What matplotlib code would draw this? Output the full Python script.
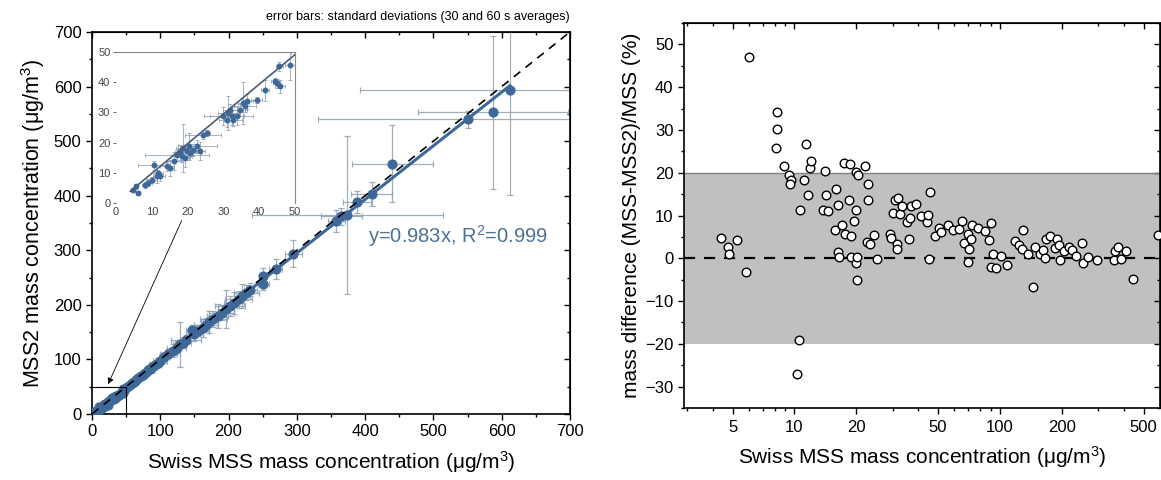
import matplotlib.pyplot as plt
import matplotlib.ticker as mticker

plt.rcParams['font.family'] = ['Liberation Sans', 'DejaVu Sans']
plt.rcParams['mathtext.fontset'] = 'custom'
plt.rcParams['mathtext.rm'] = 'Liberation Sans'
plt.rcParams['mathtext.it'] = 'Liberation Sans:italic'
plt.rcParams['mathtext.bf'] = 'Liberation Sans:bold'

# --- left panel: MSS2 vs Swiss MSS (µg/m3), with standard deviations ---
mss = [4.7, 5.6, 6.2, 8.1, 9.0, 10.0, 10.6, 11.4, 11.8, 12.3, 14.3, 15.1, 16.2, 17.1,
       17.9, 18.3, 18.8, 19.3, 19.9, 20.5, 20.7, 21.6, 22.7, 23.5, 24.2, 25.3, 30.0,
       30.9, 31.4, 31.8, 32.3, 32.8, 33.7, 34.5, 35.6, 36.0, 36.7, 39.3, 41.6, 44.4,
       44.9, 45.8, 45.6, 48.6,
       52, 55, 58, 62, 65, 68, 72, 75, 78, 82, 85, 88, 92, 96, 100, 106, 112, 118,
       124, 129, 133, 138, 146, 150, 156, 162, 167, 172, 178, 184, 190, 196, 202,
       208, 215, 220, 226, 232, 251, 251, 269, 295, 358, 365, 374, 388, 410, 440,
       551, 587, 612]
mss2 = [4.4, 5.5, 3.3, 6.1, 6.8, 7.7, 12.5, 8.8, 9.9, 8.8, 12.1, 11.6, 13.8, 16.0,
        16.8, 15.5, 18.2, 14.9, 17.1, 18.8, 16.6, 17.7, 19.0, 17.1, 22.6, 23.2, 28.7,
        27.6, 29.8, 30.7, 28.7, 27.6, 28.7, 30.9, 33.1, 32.2, 33.7, 34.2, 37.3, 40.5,
        39.7, 38.6, 45.3, 45.8,
        50, 53, 56, 59, 63, 66, 70, 72, 75, 80, 82, 86, 90, 94, 98, 104, 110, 116,
        121, 128, 131, 136, 154, 147, 153, 158, 164, 168, 174, 180, 186, 192, 198,
        204, 210, 216, 222, 228, 253, 239, 266, 294, 353, 362, 364, 388, 403, 459,
        540, 553, 594]
mss_sd = [0.5, 0.6, 0.5, 0.8, 1.0, 1.5, 4.5, 1.0, 1.2, 1.5, 2.0, 1.0, 2.0, 9.0,
          1.5, 3.0, 2.0, 1.5, 2.5, 1.5, 3.0, 2.0, 5.5, 1.5, 5.0, 1.0, 5.5,
          2.0, 3.0, 2.0, 6.0, 2.5, 2.0, 2.0, 1.5, 3.0, 1.5, 1.5, 1.0, 1.0,
          1.0, 1.5, 1.0, 1.5,
          3, 4, 3, 5, 4, 6, 5, 4, 6, 5, 8, 6, 9, 7, 10, 8, 12, 9,
          14, 10, 12, 22, 8, 12, 15, 10, 18, 12, 20, 15, 18, 12, 22,
          15, 20, 12, 18, 10, 6, 8, 10, 12, 12, 30, 140, 20, 30, 59,
          220, 110, 220]
mss2_sd = [0.6, 0.8, 0.5, 1.0, 1.2, 1.0, 1.5, 2.0, 1.0, 1.5, 1.5, 2.5, 3.0, 2.0,
           2.5, 2.0, 8.0, 3.0, 2.0, 4.5, 1.5, 2.0, 2.0, 3.0, 1.5, 1.0, 3.0,
           2.5, 5.5, 2.0, 3.0, 2.0, 3.0, 2.0, 7.0, 2.0, 2.5, 1.0, 3.5, 1.0,
           1.5, 2.0, 1.5, 5.0,
           4, 3, 5, 4, 6, 4, 7, 5, 6, 8, 5, 10, 6, 8, 7, 10, 8, 12,
           9, 41, 10, 8, 10, 14, 10, 16, 12, 20, 15, 22, 14, 35, 18,
           20, 15, 22, 14, 12, 15, 12, 18, 25, 20, 15, 145, 20, 22, 70,
           15, 140, 192]
slope = 0.983
fit_end = 612

# --- right panel: relative mass difference vs Swiss MSS ---
diff_x = [4.40, 4.76, 4.83, 5.28, 5.82, 6.01, 8.19, 8.22, 8.15, 8.87, 9.39, 9.67, 9.47,
          10.7, 11.1, 11.4, 11.6, 11.9, 12.0, 10.5, 10.3, 14.1, 13.7, 14.3, 14.6, 15.9,
          15.8, 16.3, 16.3, 16.4, 17.0, 17.4, 17.7, 18.5, 18.7, 18.9, 18.8, 19.5, 19.9,
          20.0, 20.0, 20.1, 20.4, 20.1, 22.1, 22.7, 22.7, 22.5, 23.2, 24.3, 25.2, 29.1,
          29.6, 30.2, 30.8, 31.4, 31.7, 31.8, 32.5, 33.5, 35.3, 35.9, 36.5, 36.8, 39.2,
          41.4, 44.2, 44.4, 45.7, 45.2, 48.3, 50.7, 51.8, 55.8, 59.2, 63.2, 65.3, 67.0,
          69.8, 70.7, 70.2, 72.3, 73.2, 78.5, 84.7, 88.3, 90.2, 90.2, 92.1, 95.6, 100.9,
          108.7, 118.1, 124.1, 127.3, 130.0, 136.7, 145.0, 147.9, 156.7, 162.1, 166.3,
          166.9, 174.6, 184.4, 188.3, 194.7, 196.3, 204.7, 216.2, 224.4, 233.9, 250.0,
          252.0, 269.1, 295.1, 358.9, 362.2, 374.3, 390.0, 410.0, 442.3, 587.0]
diff_pct = [4.7, 2.7, 1.0, 4.3, -3.1, 47.0, 34.1, 30.2, 25.9, 21.6, 19.5, 18.2, 17.3,
            11.2, 18.4, 26.8, 14.9, 21.2, 22.8, -19.1, -27.1, 20.5, 11.4, 14.9, 11.0, 16.1,
            6.5, 12.5, 1.4, 0.4, 7.9, 22.3, 5.7, 13.7, 22.0, 5.1, 0.2, 8.7, 20.2,
            11.2, -1.0, 0.4, 19.5, -5.1, 21.5, 17.3, 13.7, 3.8, 3.3, 5.5, -0.2, 5.7,
            4.8, 10.5, 13.7, 3.4, 2.2, 14.0, 10.3, 12.2, 8.4, 4.5, 9.4, 12.2, 12.6,
            10.0, 8.4, 10.2, 15.5, -0.2, 5.2, 7.0, 6.1, 7.9, 6.6, 6.8, 8.8, 3.6,
            5.7, 2.2, -0.8, 4.5, 7.7, 7.0, 6.3, 4.3, 8.3, -2.0, 0.9, -2.3, 0.5,
            -1.5, 4.0, 3.0, 2.2, 6.5, 1.0, -6.8, 2.6, 1.0, 2.0, 0.0,
            4.6, 5.3, 2.4, 4.4, 3.0, -0.3, 1.6, 2.6, 2.0, 0.6, 3.6,
            -1.0, 0.4, -0.4, -0.5, 1.6, 2.7, -0.2, 1.6, -4.9, 5.5]
band = 20

unit = '(μg/m$^3$)'
blue = '#3d6897'
err_col = '#8ea1b3'


def mirror_ticks(ax, loc, major, minor):
    # ticks on the top/right edges pointing inward, without labels
    sec = ax.secondary_xaxis('top') if loc == 'top' else ax.secondary_yaxis('right')
    axis = sec.xaxis if loc == 'top' else sec.yaxis
    axis.set_major_locator(major)
    axis.set_minor_locator(minor)
    axis.set_major_formatter(mticker.NullFormatter())
    axis.set_minor_formatter(mticker.NullFormatter())
    sec.tick_params(which='major', direction='in', length=4, width=1)
    sec.tick_params(which='minor', direction='in', length=2.5, width=1)
    return sec


fig = plt.figure(figsize=(11.61, 4.8), dpi=100)

# ---------------- left panel ----------------
ax1 = fig.add_axes([0.0792, 0.1375, 0.4117, 0.7958])
ax1.plot([0, 700], [0, 700], ls=(0, (5, 4)), color='black', lw=1.2, zorder=5)
ax1.errorbar(mss, mss2, xerr=mss_sd, yerr=mss2_sd, fmt='none', ecolor=err_col,
             elinewidth=0.9, capsize=2.5, capthick=0.9, alpha=0.85, zorder=2)
ax1.plot(mss, mss2, 'o', ms=6.3, color=blue, mec=blue, zorder=3)
ax1.plot([0, fit_end], [0, slope * fit_end], color=blue, lw=2.2, zorder=4)
ax1.plot([0, 50, 50], [50, 50, 0], color='black', lw=0.8, zorder=4)
ax1.annotate('', xy=(22, 50), xytext=(133, 359),
             arrowprops=dict(arrowstyle='-|>', color='black', lw=0.6, mutation_scale=9))
ax1.text(404, 326, r'y=0.983x, R$^2$=0.999', color='#4d7196', fontsize=14.5,
         ha='left', va='center')
ax1.text(1.0, 1.04, 'error bars: standard deviations (30 and 60 s averages)',
         transform=ax1.transAxes, ha='right', va='center', fontsize=9)

ax1.set_xlim(0, 700)
ax1.set_ylim(0, 700)
for axis in (ax1.xaxis, ax1.yaxis):
    axis.set_major_locator(mticker.MultipleLocator(100))
    axis.set_minor_locator(mticker.MultipleLocator(50))
ax1.tick_params(which='major', direction='out', length=4, width=1, labelsize=12)
ax1.tick_params(which='minor', direction='out', length=2.5, width=1)
ax1.set_xlabel('Swiss MSS mass concentration ' + unit, fontsize=15, labelpad=7)
ax1.set_ylabel('MSS2 mass concentration ' + unit, fontsize=15.5, labelpad=5)
for s in ax1.spines.values():
    s.set_linewidth(1.2)
mirror_ticks(ax1, 'top', mticker.MultipleLocator(100), mticker.MultipleLocator(50))
mirror_ticks(ax1, 'right', mticker.MultipleLocator(100), mticker.MultipleLocator(50))

# ---------------- inset ----------------
axi = fig.add_axes([0.0999, 0.577, 0.1542, 0.3146])
axi.errorbar(mss, mss2, xerr=mss_sd, yerr=mss2_sd, fmt='none', ecolor=err_col,
             elinewidth=0.7, capsize=1.5, capthick=0.7, alpha=0.8, zorder=2)
axi.plot(mss, mss2, 'o', ms=3.2, color=blue, zorder=3)
axi.plot([4, 50], [4 * slope, 50 * slope], color='#4b5c78', lw=1.2, zorder=4)
axi.set_xlim(0, 50)
axi.set_ylim(0, 50)
axi.set_xticks(range(0, 51, 10))
axi.set_yticks(range(0, 51, 10))
axi.spines['left'].set_visible(False)
axi.spines['bottom'].set_visible(False)
for side in ('top', 'right'):
    axi.spines[side].set_color('#888888')
    axi.spines[side].set_linewidth(0.8)
axi.tick_params(axis='y', direction='out', length=2.5, width=0.7, color='#666666',
                labelsize=8, labelcolor='#444444', pad=1.5)
axi.tick_params(axis='x', length=0, labelsize=8, labelcolor='#444444', pad=3)

# ---------------- right panel ----------------
ax2 = fig.add_axes([0.5891, 0.15, 0.41, 0.802])
ax2.set_xscale('log')
ax2.axhspan(-band, band, color='#c0c0c0', lw=0, zorder=0)
ax2.axhline(band, color='#808080', lw=1, zorder=1)
ax2.axhline(0, color='black', ls=(0, (5, 4)), lw=1.6, zorder=2)
ax2.plot(diff_x, diff_pct, 'o', mfc='white', mec='black', ms=6.2, mew=1, zorder=3)
ax2.set_xlim(2.9, 600)
ax2.set_ylim(-35, 55)

x_major = [5, 10, 20, 50, 100, 200, 500]
x_minor = [3, 4, 6, 7, 8, 9, 30, 40, 60, 70, 80, 90, 300, 400]
ax2.xaxis.set_major_locator(mticker.FixedLocator(x_major))
ax2.xaxis.set_major_formatter(mticker.FixedFormatter([str(v) for v in x_major]))
ax2.xaxis.set_minor_locator(mticker.FixedLocator(x_minor))
ax2.xaxis.set_minor_formatter(mticker.NullFormatter())
ax2.yaxis.set_major_locator(mticker.MultipleLocator(10))
ax2.yaxis.set_minor_locator(mticker.MultipleLocator(5))
ax2.tick_params(which='major', direction='out', length=4, width=1, labelsize=12)
ax2.tick_params(which='minor', direction='out', length=2.5, width=1)
ax2.tick_params(axis='x', which='major', pad=5)
ax2.set_xlabel('Swiss MSS mass concentration ' + unit, fontsize=15, labelpad=6)
ax2.set_ylabel('mass difference (MSS-MSS2)/MSS (%)', fontsize=15, labelpad=3)
for s in ax2.spines.values():
    s.set_linewidth(1.2)
mirror_ticks(ax2, 'top', mticker.FixedLocator(x_major), mticker.FixedLocator(x_minor))
mirror_ticks(ax2, 'right', mticker.MultipleLocator(10), mticker.MultipleLocator(5))

fig.savefig('out.png', dpi=100)
